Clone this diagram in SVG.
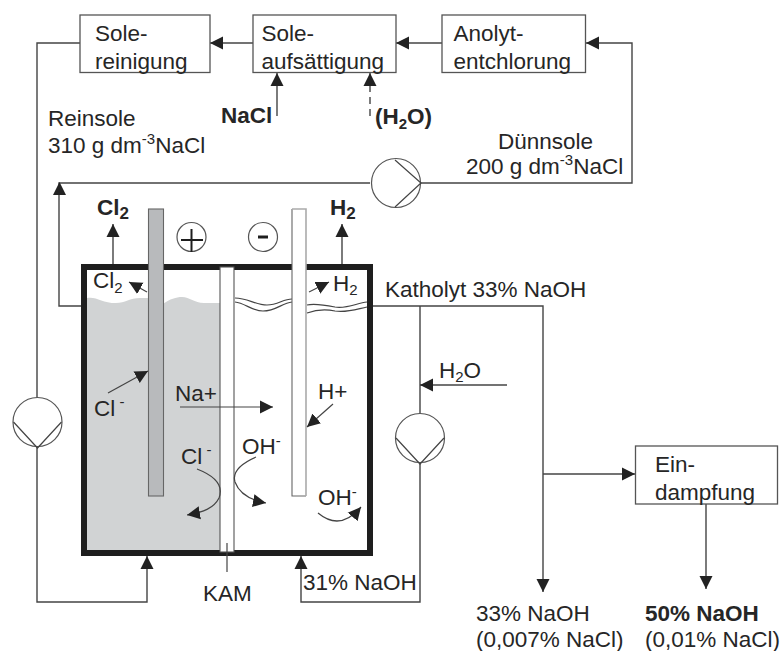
<svg xmlns="http://www.w3.org/2000/svg" width="782" height="651" viewBox="0 0 782 651">
<style>
text{font-family:"Liberation Sans",Arial,sans-serif;font-size:22.5px;fill:#262626}
.b{font-weight:bold}
.s{font-size:15px}
.box{fill:#fff;stroke:#555;stroke-width:1.3}
.l{fill:none;stroke:#444;stroke-width:1.4}
.t{fill:none;stroke:#444;stroke-width:1.2}
.p{fill:#fff;stroke:#555;stroke-width:1.2}
.h{fill:#222;stroke:none}
</style>
<defs>
<marker id="a" markerUnits="userSpaceOnUse" markerWidth="14" markerHeight="14" refX="13" refY="7" orient="auto"><path d="M0 0.5L13 7L0 13.500Z" fill="#222"/></marker>
<marker id="s" markerUnits="userSpaceOnUse" markerWidth="14" markerHeight="14" refX="13" refY="7" orient="auto"><path d="M0 0.500L13 7L0 13.500Z" fill="#222"/></marker>
<g id="pumpv"><circle r="24.5" class="p"/><path d="M-24 0L0 26L24 0" class="t"/></g>
</defs>

<g id="cell">
<path d="M87 298C96 296 102 303 116 303C125 303 130 298 140 298H150V304H163C170 299 176 297 182 297C190 297 194 303 204 303H220V550H87Z" fill="#d1d3d4"/>
<path d="M235 298C248 298 255 305 267 305C278 305 283 299 292 299M307 305C315 303 325 305 335 307C347 309 357 303 367 302" class="t"/>
<path d="M235 302C245 303 252 311 263 311C276 311 282 303 292 302M307 313C318 309 326 309 335 311C347 313 357 309 367 307" class="t"/>
<rect x="84" y="267" width="286" height="286" fill="none" stroke="#1e1e1e" stroke-width="6"/>
</g>
<g id="membrane"><rect x="220" y="267" width="14" height="285" fill="#fff" stroke="#555" stroke-width="1.1"/></g>
<g id="anode"><rect x="148.500" y="209" width="15" height="287" fill="#b8babc" stroke="#666" stroke-width="1.1"/></g>
<g id="cathode"><path d="M292 496V209H306V496Z" fill="#fff" stroke="none"/><path d="M292 209V496H306" fill="none" stroke="#666" stroke-width="1.1"/><path d="M292 209H306V496" fill="none" stroke="#aaa" stroke-width="1.6"/></g>

<g id="connectors">
<path class="l" d="M80 43H37V602H147V556" marker-end="url(#s)"/>
<path class="l" d="M253 43H210" marker-end="url(#a)"/>
<path class="l" d="M442 43H396" marker-end="url(#a)"/>
<path class="l" d="M421 183H632V43H586" marker-end="url(#a)"/>
<path class="l" d="M370 183H59V306H81"/>
<path class="h" d="M53 195L59.500 182L66 195Z"/>
<path class="l" d="M277 116V73" marker-end="url(#s)"/>
<path class="l" d="M370 116V73" stroke-dasharray="7 5" marker-end="url(#s)"/>
<path class="l" d="M113 264V224" marker-end="url(#s)"/>
<path class="l" d="M342 264V224" marker-end="url(#s)"/>
<path class="l" d="M373 306H543V592" marker-end="url(#a)"/>
<path class="l" d="M420 306V414M420 464V602H301V556" marker-end="url(#s)"/>
<path class="l" d="M507 385H420" marker-end="url(#a)"/>
<path class="l" d="M543 474H635" marker-end="url(#a)"/>
<path class="l" d="M706 504V589" marker-end="url(#a)"/>
<path class="t" d="M227 543V572"/>
<path class="t" d="M147 292L129 282" marker-end="url(#s)"/>
<path class="t" d="M309 292L329 282" marker-end="url(#s)"/>
<path class="t" d="M108 393L148 371" marker-end="url(#s)"/>
<path class="t" d="M180 407H273" marker-end="url(#a)"/>
<path class="t" d="M333 404L307 427" marker-end="url(#s)"/>
<path class="t" d="M197 469C215 476 224 485 219 498C214 508 204 512 187 515" marker-end="url(#s)"/>
<path class="t" d="M256 457C240 464 232 472 235 482C239 493 250 500 266 503" marker-end="url(#s)"/>
<path class="t" d="M318 513C330 523 345 526 361 507" marker-end="url(#s)"/>
</g>

<g id="pump-top"><circle cx="396" cy="183" r="24.500" class="p"/><path d="M395 160L421 183L395 207" class="t"/></g>
<g id="pump-left"><use href="#pumpv" x="37.500" y="422"/></g>
<g id="pump-right"><use href="#pumpv" x="420" y="438"/></g>

<g id="sole-reinigung"><rect class="box" x="80" y="15" width="130" height="57.500"/><text x="95" y="41">Sole-</text><text x="95" y="69">reinigung</text></g>
<g id="sole-aufsaettigung"><rect class="box" x="253" y="15" width="143" height="57.500"/><text x="261.500" y="41">Sole-</text><text x="261.500" y="69">aufsättigung</text></g>
<g id="anolyt"><rect class="box" x="442" y="15" width="143.500" height="57.500"/><text x="453.500" y="41">Anolyt-</text><text x="453.500" y="69">entchlorung</text></g>
<g id="eindampfung"><rect class="box" x="635.500" y="446" width="142" height="58"/><text x="655" y="472">Ein-</text><text x="655" y="500">dampfung</text></g>

<g id="labels">
<text x="48" y="126">Reinsole</text>
<text x="48" y="153">310 g dm<tspan class="s" dy="-9">-3</tspan><tspan dy="9">NaCl</tspan></text>
<text class="b" x="221" y="123">NaCl</text>
<text class="b" x="375" y="124">(H<tspan class="s" dy="5">2</tspan><tspan dy="-5">O)</tspan></text>
<text x="498" y="149">Dünnsole</text>
<text x="466" y="174">200 g dm<tspan class="s" dy="-9">-3</tspan><tspan dy="9">NaCl</tspan></text>
<text class="b" x="97" y="215">Cl<tspan dy="4" style="font-size:17px">2</tspan></text>
<text class="b" x="330" y="215">H<tspan dy="4" style="font-size:17px">2</tspan></text>
<circle cx="191.500" cy="237" r="14.500" fill="none" stroke="#555" stroke-width="1.2"/>
<path d="M181 240H203M191.500 229V252" fill="none" stroke="#1e1e1e" stroke-width="2"/>
<circle cx="263" cy="237" r="14.500" fill="none" stroke="#555" stroke-width="1.2"/>
<path d="M258 237H268" fill="none" stroke="#1e1e1e" stroke-width="3"/>
<text x="93" y="288">Cl<tspan class="s" dy="5">2</tspan></text>
<text x="333" y="291">H<tspan class="s" dy="4">2</tspan></text>
<text x="385" y="297">Katholyt 33% NaOH</text>
<text x="94" y="416">Cl<tspan class="s" dy="-9"> -</tspan></text>
<text x="175" y="401">Na+</text>
<text x="318" y="399">H+</text>
<text x="181" y="464">Cl<tspan class="s" dy="-9"> -</tspan></text>
<text x="242" y="454">OH<tspan class="s" dy="-8">-</tspan></text>
<text x="318" y="505">OH<tspan class="s" dy="-8">-</tspan></text>
<text x="439" y="378">H<tspan class="s" dy="4">2</tspan><tspan dy="-4">O</tspan></text>
<text x="203" y="601">KAM</text>
<text x="303" y="590">31% NaOH</text>
<text x="476" y="621">33% NaOH</text>
<text x="476" y="647">(0,007% NaCl)</text>
<text class="b" x="645" y="621">50% NaOH</text>
<text x="645" y="647">(0,01% NaCl)</text>
</g>
</svg>
